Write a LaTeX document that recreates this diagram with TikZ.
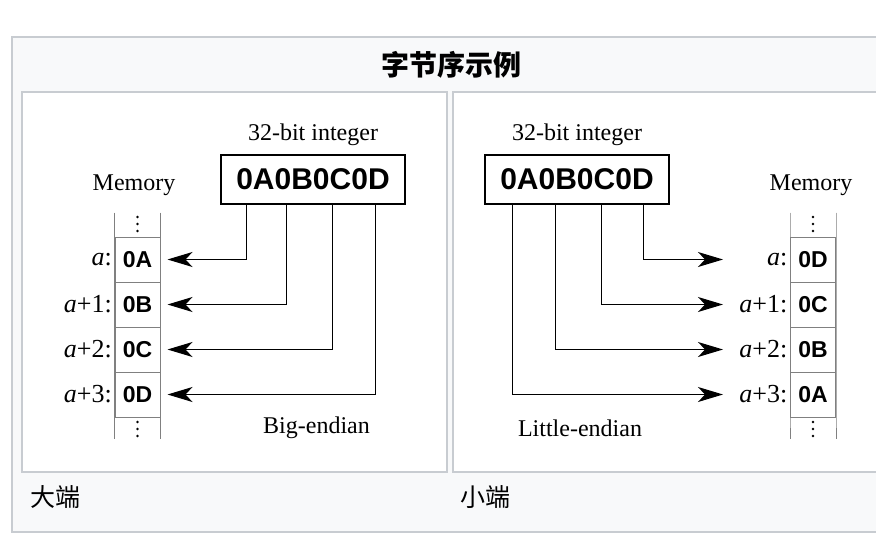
\documentclass[tikz,border=0pt]{standalone}
\usepackage{fontspec}
\setmainfont{Liberation Serif}
\newfontfamily\hexfont{Liberation Sans}
\newfontfamily\cjkfont{Noto Sans CJK SC}
\usetikzlibrary{arrows.meta}
\definecolor{framegray}{HTML}{C8CCD1}
\definecolor{bggray}{HTML}{F8F9FA}
\definecolor{cellgray}{HTML}{808080}

\begin{document}
\begin{tikzpicture}[x=1pt,y=-1pt,
		frame/.style={draw=framegray, line width=1.5pt},
		word/.style={rectangle, draw, line width=1.2pt, minimum width=184pt, minimum height=49pt, inner sep=0pt, font=\hexfont\bfseries\fontsize{30}{30}\selectfont},
		cell/.style={rectangle, draw=cellgray, line width=1pt, minimum width=45pt, minimum height=45pt, inner sep=0pt, font=\hexfont\bfseries\fontsize{23}{23}\selectfont},
		serif/.style={inner sep=0pt, font=\fontsize{24}{24}\selectfont},
		addr/.style={left, inner sep=2.5pt, font=\fontsize{26}{26}\selectfont},
		memline/.style={draw=cellgray, line width=1pt},
		byte/.style={-{Stealth[length=25pt,width=15pt,inset=7pt]}, line width=1.2pt},
		cjk/.style={inner sep=0pt, font=\cjkfont\fontsize{25}{25}\selectfont}]
		\useasboundingbox (0,0) rectangle (876,546);

		\draw[frame, fill=bggray] (12,37) rectangle (890,532);
		\draw[frame, fill=white] (22,92) rectangle (447,472);
		\draw[frame, fill=white] (453,92) rectangle (890,472);

		\draw (451,65) node (title) [cjk, font=\cjkfont\bfseries\fontsize{28}{28}\selectfont] {字节序示例};
		\draw (30,497) node (becap) [cjk, anchor=west] {大端};
		\draw (460,497) node (lecap) [cjk, anchor=west] {小端};

		% big-endian
		\draw (313,135) node (betitle) [serif] {32-bit integer};
		\draw (313,179.5) node (beword) [word] {0A0B0C0D};
		\draw (134,185) node (bemem) [serif] {Memory};
		\foreach \b/\l [count=\i from 0] in {0A/{}, 0B/+1, 0C/+2, 0D/+3}
		{
			\draw (137.5,259.5+45*\i) node (be\i) [cell] {\b};
			\draw (be\i.west) node [addr] {\textit{a}\l:};
		}
		\draw[memline] (be0.north west) ++(0,-24) -- (be3.south west) -- ++(0,21);
		\draw[memline] (be0.north east) ++(0,-24) -- (be3.south east) -- ++(0,21);
		\foreach \k in {0,1,2}
		{
			\fill (137.5,217+7*\k) circle (1.4);
			\fill (137.5,422+7*\k) circle (1.4);
		}
		\draw (316.5,428) node (belabel) [serif] {Big-endian};

		\draw[byte] ([xshift=26pt]beword.south west) |- ([xshift=7pt]be0.east);
		\draw[byte] ([xshift=66pt]beword.south west) |- ([xshift=7pt]be1.east);
		\draw[byte] ([xshift=112pt]beword.south west) |- ([xshift=7pt]be2.east);
		\draw[byte] ([xshift=155pt]beword.south west) |- ([xshift=7pt]be3.east);

		% little-endian
		\draw (577,135) node (letitle) [serif] {32-bit integer};
		\draw (577,179.5) node (leword) [word] {0A0B0C0D};
		\draw (811,185) node (lemem) [serif] {Memory};
		\foreach \b/\l [count=\i from 0] in {0D/{}, 0C/+1, 0B/+2, 0A/+3}
		{
			\draw (813,259.5+45*\i) node (le\i) [cell] {\b};
			\draw (le\i.west) node [addr] {\textit{a}\l:};
		}
		\draw[memline] (le0.north west) ++(0,-24) -- (le3.south west) -- ++(0,21);
		\draw[memline] (le0.north east) ++(0,-24) -- (le3.south east) -- ++(0,21);
		\foreach \k in {0,1,2}
		{
			\fill (813,217+7*\k) circle (1.4);
			\fill (813,422+7*\k) circle (1.4);
		}
		\draw (580,428) node (lelabel) [serif] {Little-endian};

		\draw[byte] ([xshift=159pt]leword.south west) |- ([xshift=-67pt]le0.west);
		\draw[byte] ([xshift=117pt]leword.south west) |- ([xshift=-67pt]le1.west);
		\draw[byte] ([xshift=71pt]leword.south west) |- ([xshift=-67pt]le2.west);
		\draw[byte] ([xshift=28pt]leword.south west) |- ([xshift=-67pt]le3.west);
	\end{tikzpicture}
\end{document}
